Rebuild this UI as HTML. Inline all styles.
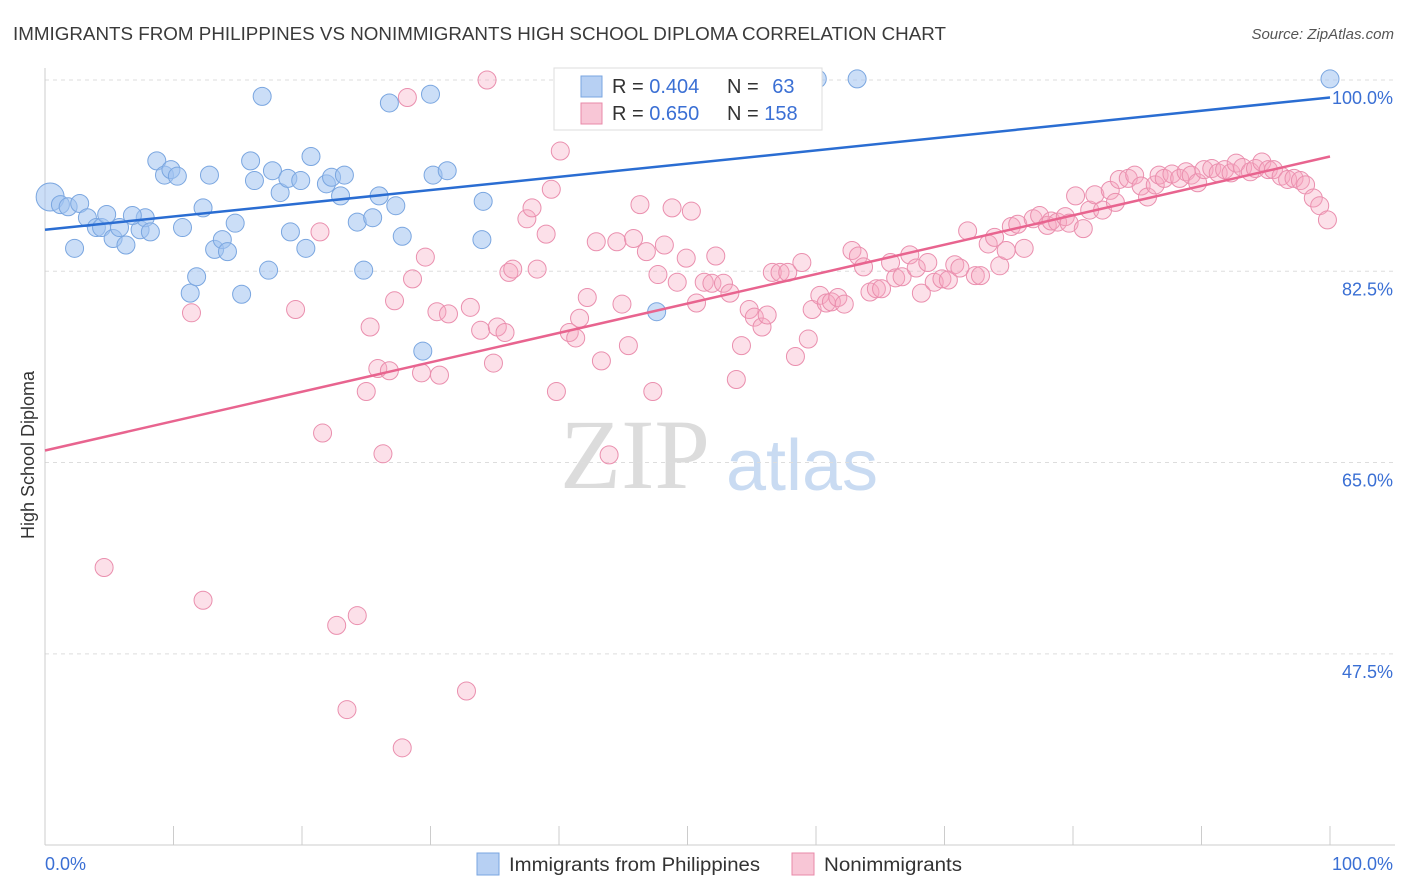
<!DOCTYPE html>
<html><head><meta charset="utf-8"><style>
body{margin:0;background:#fff;font-family:"Liberation Sans",sans-serif}
svg{display:block}
</style></head><body>
<svg id="chart" width="1406" height="892" xmlns="http://www.w3.org/2000/svg">
<text x="13" y="40" font-size="18" fill="#3a3a3a" textLength="933" lengthAdjust="spacingAndGlyphs">IMMIGRANTS FROM PHILIPPINES VS NONIMMIGRANTS HIGH SCHOOL DIPLOMA CORRELATION CHART</text>
<text x="1394" y="39" font-size="15" fill="#555" font-style="italic" text-anchor="end">Source: ZipAtlas.com</text>
<text x="635" y="488" font-size="100" fill="#dcdcdc" font-family="Liberation Serif,serif" text-anchor="middle">ZIP</text>
<text x="802" y="490" font-size="72" fill="#c9dbf2" text-anchor="middle">atlas</text>
<text x="34" y="455" font-size="18" fill="#333" transform="rotate(-90 34 455)" text-anchor="middle">High School Diploma</text>
<g id="grid"></g><g id="axes"></g><g id="pts"></g><g id="trend"></g>
<g>
<rect x="554" y="68" width="268" height="62" fill="#fff" stroke="#ddd"/>
<rect x="581" y="76" width="21" height="21" fill="#b7d0f3" stroke="#7aa6e0"/>
<rect x="581" y="103" width="21" height="21" fill="#f8c6d6" stroke="#e889a8"/>
<text x="612" y="93" font-size="20" fill="#333">R = <tspan fill="#3a6fd4">0.404</tspan></text>
<text x="727" y="93" font-size="20" fill="#333">N = <tspan fill="#3a6fd4" dx="8">63</tspan></text>
<text x="612" y="120" font-size="20" fill="#333">R = <tspan fill="#3a6fd4">0.650</tspan></text>
<text x="727" y="120" font-size="20" fill="#333">N = <tspan fill="#3a6fd4">158</tspan></text>
</g>
<g>
<rect x="477" y="853" width="22" height="22" fill="#b7d0f3" stroke="#7aa6e0"/>
<text x="509" y="871" font-size="19" fill="#333" textLength="251" lengthAdjust="spacingAndGlyphs">Immigrants from Philippines</text>
<rect x="792" y="853" width="22" height="22" fill="#f8c6d6" stroke="#e889a8"/>
<text x="824" y="871" font-size="19" fill="#333" textLength="138" lengthAdjust="spacingAndGlyphs">Nonimmigrants</text>
</g>
</svg>
<script>
const yTicks=[100,82.5,65,47.5];
const yTickLabels=["100.0%","82.5%","65.0%","47.5%"];
const xTickLabels=["0.0%","100.0%"];
const blueX=[0.4,1.2,1.8,2.7,3.3,4.0,4.4,2.3,4.8,5.3,5.8,6.3,7.4,7.8,6.8,8.2,8.7,9.3,9.8,10.3,10.7,11.3,11.8,12.3,12.8,13.2,13.8,14.2,14.8,15.3,16.0,16.3,16.9,17.4,17.7,18.3,18.9,19.1,19.9,20.3,20.7,21.9,22.3,23.0,23.3,24.3,24.8,25.5,26.0,26.8,27.3,27.8,29.4,30.0,30.2,31.3,34.0,34.1,47.6,60.1,63.2,100];
const blueY=[89.3,88.6,88.4,88.7,87.4,86.5,86.5,84.6,87.7,85.5,86.5,84.9,86.3,87.4,87.6,86.1,92.6,91.3,91.8,91.2,86.5,80.5,82.0,88.3,91.3,84.5,85.4,84.3,86.9,80.4,92.6,90.8,98.5,82.6,91.7,89.7,91.0,86.1,90.8,84.6,93.0,90.5,91.1,89.4,91.3,87.0,82.6,87.4,89.4,97.9,88.5,85.7,75.2,98.7,91.3,91.7,85.4,88.9,78.8,100.1,100.1,100.1];
const pinkX=[4.6,11.4,12.3,19.5,21.4,21.6,22.7,23.5,24.3,25.0,25.3,25.9,26.3,26.8,27.2,27.8,28.2,28.6,29.3,29.6,30.5,30.7,31.4,32.8,33.1,33.9,34.4,34.9,35.2,35.8,36.1,36.4,37.5,37.9,38.3,39.0,39.4,39.8,40.1,40.8,41.3,41.6,42.2,42.9,43.3,43.9,44.5,44.9,45.4,45.8,46.3,46.8,47.3,47.7,48.2,48.8,49.2,49.9,50.3,50.7,51.3,51.9,52.2,52.8,53.3,53.8,54.2,54.8,55.2,55.8,56.2,56.6,57.2,57.8,58.4,58.9,59.4,59.7,60.3,60.8,61.2,61.7,62.2,62.8,63.3,63.7,64.2,64.7,65.1,65.8,66.2,66.7,67.3,67.8,68.2,68.7,69.2,69.8,70.3,70.8,71.2,71.8,72.4,72.8,73.4,73.9,74.3,74.8,75.2,75.7,76.2,76.9,77.4,78.0,78.3,78.8,79.4,79.7,80.2,80.8,81.3,81.7,82.3,82.9,83.3,83.6,84.3,84.8,85.3,85.8,86.4,86.7,87.1,87.7,88.3,88.8,89.2,89.7,90.2,90.8,91.3,91.8,92.3,92.7,93.2,93.8,94.2,94.7,95.2,95.6,96.2,96.7,97.2,97.7,98.1,98.7,99.2,99.8];
const pinkY=[55.4,78.7,52.4,79.0,86.1,67.7,50.1,42.4,51.0,71.5,77.4,73.6,65.8,73.4,79.8,38.9,98.4,81.8,73.2,83.8,78.8,73.0,78.6,44.1,79.2,77.1,100,74.1,77.4,76.9,82.4,82.7,87.3,88.3,82.7,85.9,90.0,71.5,93.5,76.9,76.4,78.2,80.1,85.2,74.3,65.7,85.2,79.5,75.7,85.5,88.6,84.3,71.5,82.2,84.9,88.3,81.5,83.7,88.0,79.6,81.5,81.4,83.9,81.4,80.5,72.6,75.7,79.0,78.3,77.4,78.5,82.4,82.4,82.4,74.7,83.3,76.3,79.0,80.3,79.6,79.7,80.1,79.5,84.4,83.9,82.9,80.6,80.9,80.9,83.3,81.9,82.0,84.0,82.8,80.5,83.3,81.5,81.8,81.7,83.1,82.8,86.2,82.1,82.1,85.0,85.6,83.0,84.4,86.6,86.8,84.6,87.3,87.6,86.7,87.1,87.0,87.5,86.9,89.4,86.4,88.1,89.5,88.1,89.9,88.8,90.9,91.0,91.3,90.3,89.3,90.4,91.3,91.0,91.4,91.0,91.6,91.3,90.6,91.8,91.9,91.5,91.8,91.5,92.4,92.0,91.6,91.9,92.5,91.8,91.8,91.2,90.9,91.0,90.8,90.4,89.2,88.5,87.2];
const blueTrend=[86.3,98.4];
const pinkTrend=[66.1,93.0];
const NS="http://www.w3.org/2000/svg";
function xs(v){return 45+v*12.85;}
function ys(v){return 80+(100-v)*10.93;}
function mk(tag,attrs,parent){const e=document.createElementNS(NS,tag);for(const k in attrs)e.setAttribute(k,attrs[k]);parent.appendChild(e);return e;}
const grid=document.getElementById('grid'),axes=document.getElementById('axes'),pts=document.getElementById('pts'),trend=document.getElementById('trend');
yTicks.forEach((t,i)=>{
 const l=mk('line',{x1:45,x2:1395,y1:ys(t),y2:ys(t),stroke:'#ddd','stroke-dasharray':'4 4'},grid);
 
 
 const tx=mk('text',{x:1393,y:ys(t)+24,'font-size':18,fill:'#3a6fd4','text-anchor':'end'},axes);
 tx.textContent=yTickLabels[i];
 
 
});
const ax=mk('line',{x1:45,x2:45,y1:68,y2:845,stroke:'#ccc'},axes);


const bx=mk('line',{x1:45,x2:1395,y1:845,y2:845,stroke:'#ccc'},axes);


for(let i=1;i<=10;i++){
 const t=mk('line',{x1:xs(i*10),x2:xs(i*10),y1:826,y2:845,stroke:'#ccc'},axes);
 
 
}
[[0,'start',45],[100,'end',1393]].forEach((d,i)=>{
 const tx=mk('text',{x:d[2],y:870,'font-size':18,fill:'#3a6fd4','text-anchor':d[1]},axes);
 tx.textContent=xTickLabels[i];
 
 
});
pinkX.forEach((x,i)=>{
 const c=mk('circle',{cx:xs(x),cy:ys(pinkY[i]),r:9,fill:'rgba(245,165,192,0.35)',stroke:'#ea8fae','stroke-width':1},pts);
 
 
});
blueX.forEach((x,i)=>{
 const c=mk('circle',{cx:xs(x),cy:ys(blueY[i]),r:i===0?14:9,fill:'rgba(160,195,240,0.55)',stroke:'#7aa6e0','stroke-width':1},pts);
 
 
});
const bl=mk('line',{x1:xs(0),y1:ys(blueTrend[0]),x2:xs(100),y2:ys(blueTrend[1]),stroke:'#2a6dd2','stroke-width':2.5},trend);


const pl=mk('line',{x1:xs(0),y1:ys(pinkTrend[0]),x2:xs(100),y2:ys(pinkTrend[1]),stroke:'#e8648f','stroke-width':2.5},trend);


</script>
</body></html>
